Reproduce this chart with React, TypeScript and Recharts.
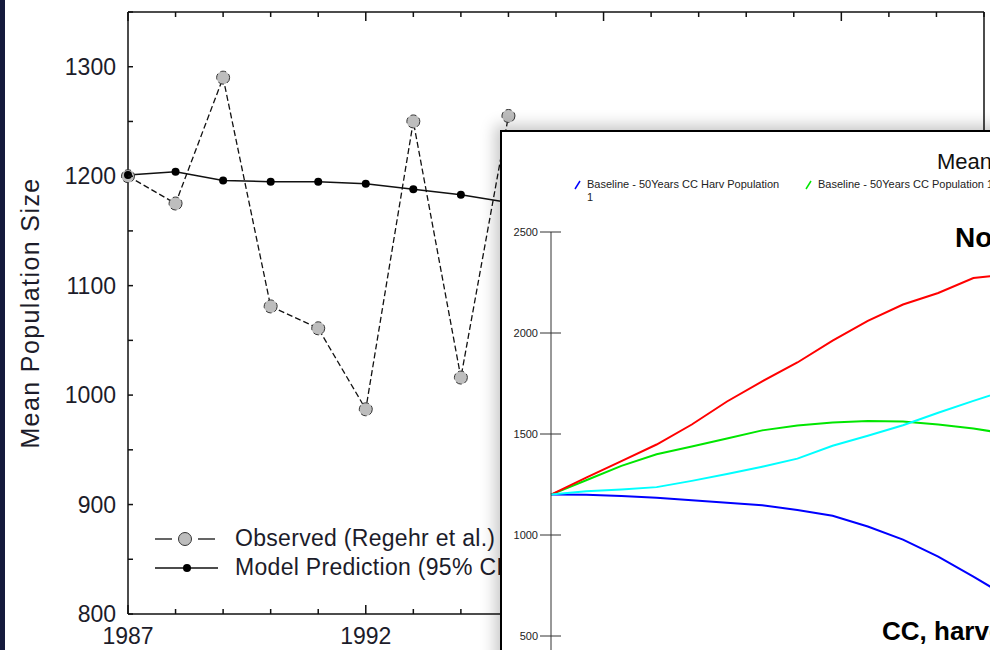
import React from "react";
import { LineChart, Line, XAxis, YAxis, Legend } from "recharts";

// main chart: observed vs model prediction
const years = [1987, 1988, 1989, 1990, 1991, 1992, 1993, 1994, 1995];
const observed = [1200, 1175, 1290, 1081, 1061, 987, 1250, 1016, 1255];
const predicted = [1201, 1204, 1196, 1195, 1195, 1193, 1188, 1183, 1176];
const mainXTicks = [
  1987, 1988, 1989, 1990, 1991, 1992, 1993, 1994, 1995, 1996, 1997, 1998, 1999, 2000, 2001, 2002,
  2003, 2004, 2005,
];
const mainYTicks = [800, 850, 900, 950, 1000, 1050, 1100, 1150, 1200, 1250, 1300, 1350];

// inset: simulated scenarios
const simYears = [0, 2, 4, 6, 8, 10, 12, 14, 16, 18, 20, 22, 24, 26];
const ccHarv = [1200, 1199, 1193, 1184, 1172, 1160, 1147, 1124, 1095, 1042, 977, 893, 794, 690];
const cc = [1200, 1271, 1342, 1400, 1438, 1478, 1518, 1542, 1557, 1564, 1562, 1547, 1527, 1500];
const noCc = [1200, 1284, 1366, 1448, 1547, 1661, 1761, 1854, 1962, 2060, 2141, 2198, 2272, 2290];
const noCcHarv = [1200, 1216, 1225, 1237, 1268, 1302, 1338, 1378, 1442, 1491, 1543, 1605, 1664, 1720];
const insetYTicks = [0, 500, 1000, 1500, 2000, 2500];

const mainData = years.map((y, i) => ({ year: y, observed: observed[i], predicted: predicted[i] }));
const simData = simYears.map((t, i) => ({
  t,
  ccHarv: ccHarv[i],
  cc: cc[i],
  noCc: noCc[i],
  noCcHarv: noCcHarv[i],
}));

const FONT = "Arial, 'Liberation Sans', sans-serif";
const INK = "#1c1c2a";

function BottomTick({ x, y, payload }: any) {
  const major = (payload.value - 1987) % 5 === 0;
  const axisY = y - 12;
  return (
    <g>
      <line x1={x} x2={x} y1={axisY} y2={axisY - (major ? 9 : 5)} stroke="#111" strokeWidth={1.5} />
      {major && (
        <text x={x} y={y} dy="0.78em" textAnchor="middle" fontSize={23} fill={INK} fontFamily={FONT}>
          {payload.value}
        </text>
      )}
    </g>
  );
}

function TopTick({ x, y, payload }: any) {
  const major = (payload.value - 1987) % 5 === 0;
  return <line x1={x} x2={x} y1={y} y2={y + (major ? 9 : 5)} stroke="#111" strokeWidth={1.5} />;
}

function LeftTick({ x, y, payload }: any) {
  const axisX = x + 12;
  const labeled = payload.value % 100 === 0;
  return (
    <g>
      <line x1={axisX} x2={axisX + 5} y1={y} y2={y} stroke="#111" strokeWidth={1.5} />
      {labeled && (
        <text x={x} y={y} dy="0.36em" textAnchor="end" fontSize={23} fill={INK} fontFamily={FONT}>
          {payload.value}
        </text>
      )}
    </g>
  );
}

function RightTick({ x, y }: any) {
  return <line x1={x} x2={x - 5} y1={y} y2={y} stroke="#111" strokeWidth={1.5} />;
}

function InsetYTick({ x, y, payload }: any) {
  const axisX = x + 13;
  return (
    <g>
      <line x1={axisX - 11} x2={axisX + 10} y1={y} y2={y} stroke="#333" strokeWidth={1} />
      <text x={x} y={y} dy="0.36em" textAnchor="end" fontSize={11} fill="#222" fontFamily={FONT}>
        {payload.value}
      </text>
    </g>
  );
}

function MainLegend() {
  const row = { display: "flex", alignItems: "center", height: 29 } as const;
  const text = { fontSize: 23, color: INK, fontFamily: FONT, letterSpacing: 0.3, whiteSpace: "nowrap" } as const;
  return (
    <div>
      <div style={row}>
        <svg width={85} height={20}>
          <line x1={5} x2={22} y1={10} y2={10} stroke="#111" strokeWidth={1.3} />
          <line x1={48} x2={65} y1={10} y2={10} stroke="#111" strokeWidth={1.3} />
          <circle cx={35} cy={10} r={6.5} fill="#bdbdbd" stroke="#333" strokeWidth={1} />
        </svg>
        <span style={text}>Observed (Regehr et al.)</span>
      </div>
      <div style={row}>
        <svg width={85} height={20}>
          <line x1={5} x2={68} y1={10} y2={10} stroke="#111" strokeWidth={1.5} />
          <circle cx={37} cy={10} r={4} fill="#000" />
        </svg>
        <span style={text}>Model Prediction (95% CI)</span>
      </div>
    </div>
  );
}

function InsetLegend({ payload }: any) {
  return (
    <div style={{ display: "flex" }}>
      {(payload || []).map((p: any) => (
        <div key={p.value} style={{ width: 231, flex: "none", display: "flex", alignItems: "flex-start" }}>
          <svg width={13} height={13} style={{ flex: "none" }}>
            <line x1={1} y1={11} x2={6} y2={3} stroke={p.color} strokeWidth={1.5} />
          </svg>
          <span
            style={{ width: 196, fontSize: 11, lineHeight: "13px", color: "#222", fontFamily: FONT, textAlign: "left" }}
          >
            {p.value}
          </span>
        </div>
      ))}
    </div>
  );
}

export default function App() {
  return (
    <div
      style={{
        position: "fixed",
        left: 0,
        top: 0,
        width: 990,
        height: 650,
        overflow: "hidden",
        background: "#fff",
        fontFamily: FONT,
      }}
    >
      <div style={{ position: "absolute", left: 0, top: 0, width: 5, height: 650, background: "#141a3c" }} />

      <div style={{ position: "absolute", left: 0, top: 0 }}>
        <LineChart width={1000} height={650} data={mainData} margin={{ top: 11, right: 15, bottom: 0, left: 0 }}>
          <XAxis
            dataKey="year"
            type="number"
            domain={[1987, 2005]}
            ticks={mainXTicks}
            interval={0}
            height={36}
            tickSize={0}
            tickMargin={12}
            tick={<BottomTick />}
            axisLine={{ stroke: "#111", strokeWidth: 1.5 }}
            tickLine={false}
          />
          <XAxis
            xAxisId="top"
            dataKey="year"
            type="number"
            orientation="top"
            domain={[1987, 2005]}
            ticks={mainXTicks}
            interval={0}
            height={1}
            tickSize={0}
            tickMargin={0}
            tick={<TopTick />}
            axisLine={{ stroke: "#111", strokeWidth: 1.5 }}
            tickLine={false}
          />
          <YAxis
            domain={[800, 1350]}
            ticks={mainYTicks}
            interval={0}
            width={128}
            tickSize={0}
            tickMargin={12}
            tick={<LeftTick />}
            axisLine={{ stroke: "#111", strokeWidth: 1.5 }}
            tickLine={false}
            label={{
              value: "Mean Population Size",
              angle: -90,
              position: "insideLeft",
              offset: 30,
              style: { fontSize: 25, fill: INK, fontFamily: FONT, letterSpacing: 1.4, textAnchor: "middle" },
            }}
          />
          <YAxis
            yAxisId="right"
            orientation="right"
            domain={[800, 1350]}
            ticks={mainYTicks}
            interval={0}
            width={1}
            tickSize={0}
            tickMargin={0}
            tick={<RightTick />}
            axisLine={{ stroke: "#111", strokeWidth: 1.5 }}
            tickLine={false}
          />
          <Legend
            layout="horizontal"
            verticalAlign="middle"
            content={<MainLegend />}
            wrapperStyle={{ position: "absolute", left: 150, top: 524, width: 400 }}
          />
          <Line
            dataKey="observed"
            stroke="#111"
            strokeWidth={1.3}
            strokeDasharray="6 3"
            dot={{ r: 6.5, fill: "#bdbdbd", stroke: "#333", strokeWidth: 1 }}
            isAnimationActive={false}
          />
          <Line
            dataKey="predicted"
            stroke="#111"
            strokeWidth={1.5}
            dot={{ r: 4, fill: "#000", stroke: "#000", strokeWidth: 0 }}
            isAnimationActive={false}
          />
        </LineChart>
      </div>

      <div
        style={{
          position: "absolute",
          left: 500,
          top: 130,
          width: 1000,
          height: 700,
          background: "#fff",
          borderTop: "2px solid #000",
          borderLeft: "2px solid #000",
          boxShadow: "-5px -5px 14px rgba(0,0,0,0.22)",
        }}
      >
        <div style={{ position: "absolute", left: 435, top: 17, fontSize: 22, color: "#111", whiteSpace: "nowrap" }}>
          Mean Population Size
        </div>
        <div
          style={{ position: "absolute", left: 453, top: 90, fontSize: 28, fontWeight: "bold", color: "#000", whiteSpace: "nowrap" }}
        >
          No CC, no harvest
        </div>
        <div
          style={{ position: "absolute", left: 380, top: 484, fontSize: 26, fontWeight: "bold", color: "#000", whiteSpace: "nowrap" }}
        >
          CC, harvest
        </div>
        <LineChart width={949} height={650} data={simData} margin={{ top: 100, right: 20, bottom: 15, left: 0 }}>
          <XAxis dataKey="t" type="number" domain={[0, 50]} height={30} tick={{ fontSize: 11 }} stroke="#333" />
          <YAxis
            domain={[0, 2500]}
            ticks={insetYTicks}
            interval={0}
            width={49}
            tickSize={0}
            tickMargin={13}
            tick={<InsetYTick />}
            axisLine={{ stroke: "#333", strokeWidth: 1 }}
            tickLine={false}
          />
          <Legend
            layout="horizontal"
            verticalAlign="middle"
            content={<InsetLegend />}
            wrapperStyle={{ position: "absolute", left: 72, top: 46, width: 1000 }}
          />
          <Line
            dataKey="ccHarv"
            name="Baseline - 50Years CC Harv Population 1"
            stroke="#0000ff"
            strokeWidth={2}
            dot={false}
            isAnimationActive={false}
          />
          <Line
            dataKey="cc"
            name="Baseline - 50Years CC Population 1"
            stroke="#00e600"
            strokeWidth={2}
            dot={false}
            isAnimationActive={false}
          />
          <Line
            dataKey="noCc"
            name="Baseline - 50Years No CC Population 1"
            stroke="#ff0000"
            strokeWidth={2}
            dot={false}
            isAnimationActive={false}
          />
          <Line
            dataKey="noCcHarv"
            name="Baseline - 50Years No CC Harv Population 1"
            stroke="#00ffff"
            strokeWidth={2}
            dot={false}
            isAnimationActive={false}
          />
        </LineChart>
      </div>
    </div>
  );
}
